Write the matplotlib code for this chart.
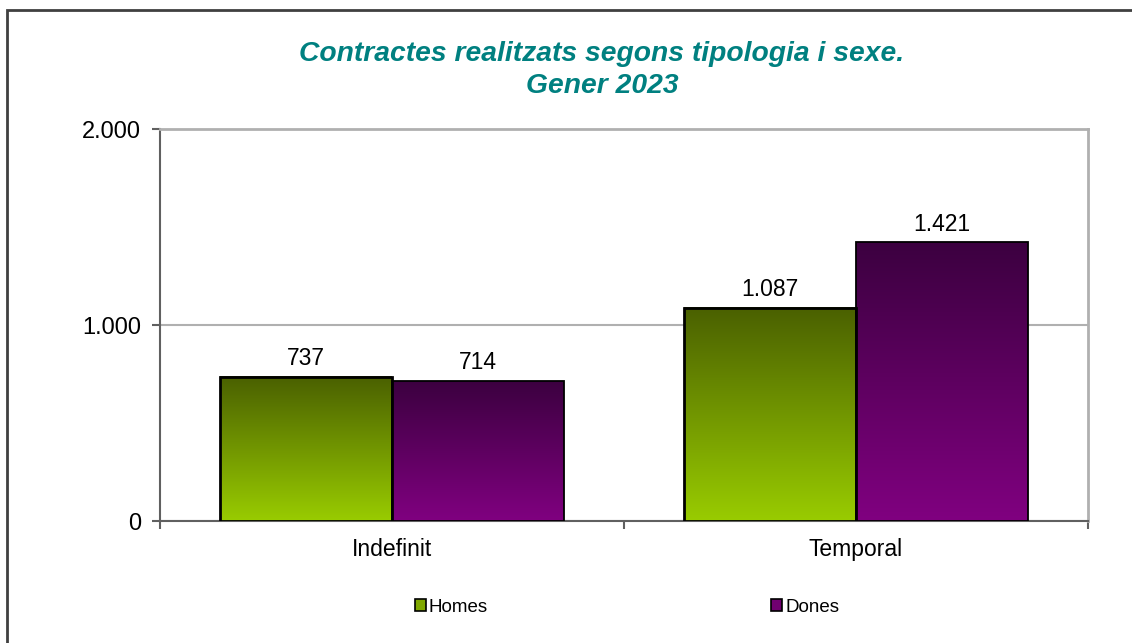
import numpy as np
import matplotlib.pyplot as plt
from matplotlib.patches import Rectangle
from matplotlib.colors import LinearSegmentedColormap

categories = ['Indefinit', 'Temporal']
homes = [737, 1087]
dones = [714, 1421]
series_names = ['Homes', 'Dones']

plt.rcParams['font.family'] = ['Liberation Sans', 'DejaVu Sans']

fig = plt.figure(figsize=(11.32, 6.43), dpi=100)
ax = fig.add_axes([160 / 1132, 1 - 521 / 643, 928 / 1132, 392 / 643])

# marc exterior (només es veuen esquerra i dalt)
fig.patches.append(Rectangle((7 / 1132, -0.1), 1.2, 1 - 10 / 643 + 0.1,
                             transform=fig.transFigure, fill=False,
                             edgecolor='#404040', lw=2))

verd = LinearSegmentedColormap.from_list('verd', ['#99cc00', '#4a6000'])
lila = LinearSegmentedColormap.from_list('lila', ['#800080', '#3c0040'])
grad = np.linspace(0, 1, 256).reshape(-1, 1)

w = 0.37
x = np.arange(len(categories))
for vals, off, cmap, lw in [(homes, -w / 2, verd, 2), (dones, w / 2, lila, 1.3)]:
    bars = ax.bar(x + off, vals, w, facecolor='none', edgecolor='black', lw=lw, zorder=4)
    for b, v in zip(bars, vals):
        x0 = b.get_x()
        ax.imshow(grad, cmap=cmap, origin='lower', aspect='auto',
                  extent=[x0, x0 + w, 0, v], zorder=3)
        ax.text(x0 + w / 2, v + 35, '{:,}'.format(v).replace(',', '.'),
                ha='center', va='bottom', fontsize=16.5, zorder=5)

ax.set_xlim(-0.5, 1.5)
ax.set_ylim(0, 2000)
ax.set_yticks([0, 1000, 2000])
ax.set_yticklabels(['0', '1.000', '2.000'], fontsize=17)
ax.set_xticks(x)
ax.set_xticklabels(categories, fontsize=16.5)
ax.set_xticks([-0.5, 0.5, 1.5], minor=True)
ax.tick_params(axis='x', which='major', length=0, pad=12)
ax.tick_params(axis='x', which='minor', length=6, color='#606060', width=1.5)
ax.tick_params(axis='y', length=6, color='#606060', width=1.5, pad=7.5)
ax.yaxis.grid(True, color='#b0b0b0', lw=1.5, zorder=1)
ax.set_axisbelow(True)

for s in ['top', 'right']:
    ax.spines[s].set_color('#b0b0b0')
    ax.spines[s].set_linewidth(2)
for s in ['left', 'bottom']:
    ax.spines[s].set_color('#606060')
    ax.spines[s].set_linewidth(1.5)

fig.text(602 / 1132, 1 - 70 / 643, 'Contractes realitzats segons tipologia i sexe.\nGener 2023',
         ha='center', va='center', fontsize=20.3, fontweight='bold', fontstyle='italic',
         color='#008080', linespacing=1.3)

handles = [Rectangle((0, 0), 1, 1, facecolor='#80a800', edgecolor='black', lw=1.2),
           Rectangle((0, 0), 1, 1, facecolor='#700070', edgecolor='black', lw=1.2)]
fig.legend(handles, series_names, loc='center', bbox_to_anchor=(627 / 1132, 1 - 607 / 643),
           ncol=2, frameon=False, fontsize=13.5, handlelength=0.6, handleheight=0.6,
           handletextpad=0.15, columnspacing=15.1)

fig.savefig('out.png', dpi=100)
